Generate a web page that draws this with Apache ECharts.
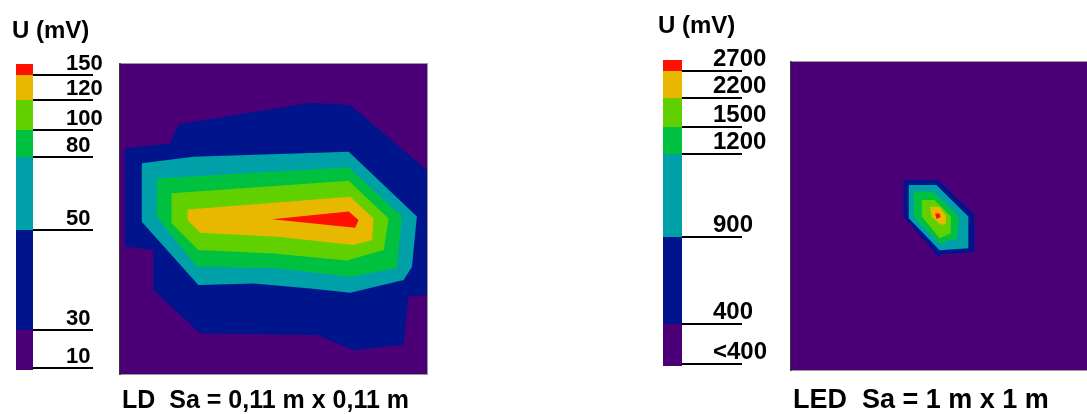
<!DOCTYPE html>
<html>
<head>
<meta charset="utf-8">
<script src="https://cdn.jsdelivr.net/npm/echarts@6/dist/echarts.min.js"></script>
<style>
  html, body { margin: 0; padding: 0; background: #ffffff; }
  #chart { width: 1087px; height: 414px; }
</style>
</head>
<body>
<div id="chart"></div>
<script>
// ---------- DATA ----------
// Colour-scale levels (mV) for each map
const ldLevelLabels  = ['10', '30', '50', '80', '100', '120', '150'];
const ledLevelLabels = ['<400', '400', '900', '1200', '1500', '2200', '2700'];
const levelColors = ['#4b0078', '#00148c', '#00a0a8', '#00c040', '#60d000', '#e8b800', '#ff1000'];

// Measured area, in % of the scanned field (x to the right, y upward)
const fullField = [[0, 0], [100, 0], [100, 100], [0, 100]];

// LD map: contour regions (U >= level)
const ldBand30  = [[1.6, 72.8], [16.3, 74.4], [19.0, 80.6], [62.0, 87.5], [75.0, 86.8], [100, 65.8], [100, 25.5], [94.0, 24.9], [92.4, 9.4], [76.1, 7.7], [64.1, 12.6], [26.1, 13.1], [10.9, 27.1], [10.9, 40.0], [1.6, 41.1]];
const ldBand50  = [[7.1, 68.0], [23.9, 70.1], [74.5, 71.7], [96.7, 50.8], [95.1, 34.6], [92.4, 30.3], [75.0, 26.2], [62.0, 27.6], [43.5, 29.2], [25.5, 28.7], [7.1, 49.1]];
const ldBand80  = [[12.0, 63.1], [74.5, 66.7], [91.8, 50.8], [90.2, 34.1], [75.0, 31.4], [51.1, 34.1], [25.0, 34.6], [12.0, 50.8]];
const ldBand100 = [[16.8, 58.3], [74.5, 62.3], [87.5, 50.2], [85.9, 40.0], [73.9, 36.6], [50.0, 38.9], [25.5, 40.0], [16.8, 48.6]];
const ldBand120 = [[22.0, 53.1], [75.0, 57.2], [82.6, 50.2], [82.1, 43.2], [76.1, 41.6], [51.1, 44.3], [26.1, 45.6], [22.0, 49.7]];
const ldBand150 = [[49.5, 49.9], [74.5, 52.4], [77.7, 49.7], [76.6, 47.2]];

// LED map: contour regions (U >= level)
const ledBand400  = [[38.0, 61.8], [49.6, 61.8], [62.0, 50.3], [62.0, 38.2], [50.7, 37.6], [49.6, 36.5], [48.5, 38.2], [38.0, 49.8]];
const ledBand900  = [[39.8, 60.1], [49.1, 60.1], [59.9, 49.8], [59.9, 39.5], [50.2, 38.9], [39.8, 49.3]];
const ledBand1200 = [[41.5, 57.9], [48.0, 57.9], [56.7, 49.8], [56.1, 42.8], [50.2, 41.1], [41.5, 49.8]];
const ledBand1500 = [[44.2, 55.2], [48.5, 55.2], [54.0, 49.8], [54.0, 44.4], [50.2, 42.8], [44.2, 49.8]];
const ledBand2200 = [[46.9, 53.0], [50.2, 53.0], [52.3, 50.3], [52.3, 47.6], [50.7, 47.1], [47.5, 49.8]];
const ledBand2700 = [[48.7, 50.8], [50.2, 50.8], [50.5, 49.7], [49.2, 49.0]];

// ---------- LAYOUT (colour-bar geometry, legend units from the bar bottom) ----------
const ldBarStops  = [0, 40, 140, 213, 240, 270, 295, 306];
const ldTickPos   = [2, 40, 140, 213, 240, 270, 295];
const ledBarStops = [0, 42, 129, 212, 239, 268, 295, 306];
const ledTickPos  = [2, 42, 129, 212, 239, 268, 295];
const TICK_LEN = 60;

const ldPolys  = [fullField, ldBand30, ldBand50, ldBand80, ldBand100, ldBand120, ldBand150];
const ledPolys = [fullField, ledBand400, ledBand900, ledBand1200, ledBand1500, ledBand2200, ledBand2700];

const FONT = 'Liberation Sans, Arial, sans-serif';

function polySeries(polys, idx) {
  return {
    type: 'custom',
    xAxisIndex: idx, yAxisIndex: idx,
    clip: true,
    silent: true,
    data: polys.map((p, i) => [i]),
    renderItem: function (params, api) {
      const pts = polys[params.dataIndex].map(pt => api.coord(pt));
      return {
        type: 'polygon',
        shape: { points: pts },
        style: { fill: levelColors[params.dataIndex], stroke: null }
      };
    }
  };
}

function barSeries(stops, idx) {
  return {
    type: 'custom',
    xAxisIndex: idx, yAxisIndex: idx,
    clip: false,
    silent: true,
    data: levelColors.map((c, i) => [i]),
    renderItem: function (params, api) {
      const i = params.dataIndex;
      const p0 = api.coord([0, stops[i + 1]]);
      const p1 = api.coord([1, stops[i]]);
      return {
        type: 'rect',
        shape: { x: p0[0], y: p0[1], width: p1[0] - p0[0], height: p1[1] - p0[1] },
        style: { fill: levelColors[i] }
      };
    }
  };
}

function tickSeries(tickPos, idx) {
  return {
    type: 'custom',
    xAxisIndex: idx, yAxisIndex: idx,
    clip: false,
    silent: true,
    z: 3,
    data: tickPos.map((p, i) => [i]),
    renderItem: function (params, api) {
      const p = api.coord([1, tickPos[params.dataIndex]]);
      const y = Math.round(p[1]);
      return {
        type: 'line',
        shape: { x1: p[0], y1: y, x2: p[0] + TICK_LEN, y2: y },
        style: { stroke: '#000', lineWidth: 2 }
      };
    }
  };
}

function barYAxis(idx, tickPos, labels, margin, fontSize) {
  return {
    type: 'value', gridIndex: idx, min: 0, max: 306, position: 'right',
    axisLine: { show: false },
    splitLine: { show: false },
    axisTick: { show: false },
    axisLabel: { show: true, customValues: tickPos, margin: margin,
                 verticalAlign: 'bottom', align: 'left',
                 color: '#000', fontSize: fontSize, fontWeight: 'bold', fontFamily: FONT,
                 formatter: function (v) { const k = tickPos.indexOf(v); return k >= 0 ? labels[k] : ''; } }
  };
}

function hiddenAxis(idx) {
  return { type: 'value', gridIndex: idx, min: 0, max: 1,
    axisLine: { show: false }, axisTick: { show: false }, axisLabel: { show: false }, splitLine: { show: false } };
}

function mapYAxis(idx) {
  return { type: 'value', gridIndex: idx, min: 0, max: 100,
    axisLine: { show: true, lineStyle: { color: '#333', width: 2 } },
    axisTick: { show: false }, axisLabel: { show: false }, splitLine: { show: false } };
}
function mapXAxis(idx) {
  return { type: 'value', gridIndex: idx, min: 0, max: 100,
    axisLine: { show: false }, axisTick: { show: false }, axisLabel: { show: false }, splitLine: { show: false } };
}

const chart = echarts.init(document.getElementById('chart'), null, { renderer: 'canvas' });
chart.setOption({
  animation: false,
  backgroundColor: '#ffffff',
  title: [
    { text: 'U (mV)', left: 7, top: 14, textStyle: { fontSize: 24, fontWeight: 'bold', color: '#000', fontFamily: FONT } },
    { text: 'U (mV)', left: 653, top: 9, textStyle: { fontSize: 24, fontWeight: 'bold', color: '#000', fontFamily: FONT } },
    { text: 'LD  Sa = 0,11 m x 0,11 m', left: 117, top: 384, textStyle: { fontSize: 25, fontWeight: 'bold', color: '#000', fontFamily: FONT } },
    { text: 'LED  Sa = 1 m x 1 m', left: 788, top: 382, textStyle: { fontSize: 27, fontWeight: 'bold', color: '#000', fontFamily: FONT } }
  ],
  grid: [
    { left: 16, top: 64, width: 17, height: 306 },
    { left: 120, top: 64, width: 307, height: 310, show: true, borderColor: '#999', borderWidth: 2, backgroundColor: 'transparent' },
    { left: 663, top: 60, width: 19, height: 306 },
    { left: 791, top: 62, width: 307, height: 308, show: true, borderColor: '#999', borderWidth: 2, backgroundColor: 'transparent' }
  ],
  xAxis: [ hiddenAxis(0), mapXAxis(1), hiddenAxis(2), mapXAxis(3) ],
  yAxis: [
    barYAxis(0, ldTickPos, ldLevelLabels, 33, 22),
    mapYAxis(1),
    barYAxis(2, ledTickPos, ledLevelLabels, 31, 24),
    mapYAxis(3)
  ],
  series: [
    barSeries(ldBarStops, 0),
    tickSeries(ldTickPos, 0),
    polySeries(ldPolys, 1),
    barSeries(ledBarStops, 2),
    tickSeries(ledTickPos, 2),
    polySeries(ledPolys, 3)
  ]
});
</script>
</body>
</html>
